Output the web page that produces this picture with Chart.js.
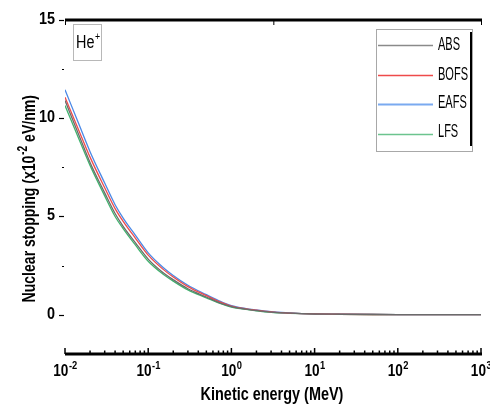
<!DOCTYPE html>
<html><head><meta charset="utf-8">
<script src="https://cdn.jsdelivr.net/npm/chart.js@4.4.1/dist/chart.umd.min.js"></script>
<style>html,body{margin:0;padding:0;background:#fff;}canvas{display:block;}</style>
</head><body>
<canvas id="c" width="490" height="405"></canvas>
<script>
const energy = [0.01, 0.015, 0.02, 0.03, 0.04, 0.05, 0.07, 0.1, 0.15, 0.2, 0.3, 0.5, 0.7, 1, 1.5, 2, 3, 5, 7, 10, 20, 50, 100, 200, 500, 1000];
const absVals  = [10.9, 9.05, 7.75, 6.2, 5.15, 4.5, 3.67, 2.83, 2.15, 1.78, 1.32, 0.9, 0.63, 0.41, 0.28, 0.21, 0.13, 0.08, 0.054, 0.036, 0.023, 0.011, 0.006, 0.004, 0.002, 0.001];
const bofsVals = [11.07, 9.28, 8.02, 6.46, 5.4, 4.75, 3.9, 3.03, 2.32, 1.92, 1.43, 0.97, 0.68, 0.44, 0.3, 0.23, 0.14, 0.085, 0.057, 0.038, 0.024, 0.011, 0.007, 0.004, 0.002, 0.001];
const eafsVals = [11.45, 9.6, 8.3, 6.7, 5.6, 4.92, 4.05, 3.15, 2.42, 2.0, 1.5, 1.02, 0.72, 0.46, 0.31, 0.24, 0.15, 0.09, 0.06, 0.04, 0.025, 0.012, 0.007, 0.004, 0.002, 0.001];
const lfsVals  = [10.65, 8.85, 7.6, 6.05, 5.0, 4.38, 3.55, 2.72, 2.07, 1.71, 1.26, 0.86, 0.6, 0.39, 0.27, 0.2, 0.125, 0.075, 0.05, 0.034, 0.022, 0.01, 0.006, 0.003, 0.002, 0.001];
const seriesNames = ['ABS', 'BOFS', 'EAFS', 'LFS'];
const xTickValues = [0.01, 0.1, 1, 10, 100, 1000];
const xTickExps = ['-2', '-1', '0', '1', '2', '3'];
const yTickValues = [0, 5, 10, 15];
const yMinorValues = [2.5, 7.5, 12.5];

const colors = ['#6b6b6b', '#ee4a4a', '#4a88e6', '#3fb36e'];
const legendColors = ['#8a8a8a', '#ee4a4a', '#7aaaf0', '#6cc48e'];
const FONT = '"Liberation Sans Narrow", "Arial Narrow", "Liberation Sans", Arial, sans-serif';

function pts(vals){ return energy.map((e,i)=>({x:e, y:vals[i]})); }
const allVals = [absVals, bofsVals, eafsVals, lfsVals];

function sq(ctx, text, x, y, font, sx, align) {
  ctx.save();
  ctx.font = font;
  const w = ctx.measureText(text).width * sx;
  let left = x;
  if (align === 'center') left = x - w / 2;
  else if (align === 'right') left = x - w;
  ctx.translate(left, y);
  ctx.scale(sx, 1);
  ctx.textAlign = 'left';
  ctx.fillText(text, 0, 0);
  ctx.restore();
  return w;
}
function tw(ctx, text, font, sx) { ctx.save(); ctx.font = font; const w = ctx.measureText(text).width * sx; ctx.restore(); return w; }

const drawPlugin = {
  id: 'custom',
  afterDraw(chart){
    const ctx = chart.ctx;
    const xs = chart.scales.x, ys = chart.scales.y;
    const a = chart.chartArea;
    ctx.save();
    ctx.fillStyle = '#000'; ctx.strokeStyle = '#000';
    ctx.lineWidth = 3;
    ctx.beginPath(); ctx.moveTo(a.left, a.top); ctx.lineTo(a.right + 1, a.top); ctx.stroke();
    ctx.lineWidth = 1;
    [a.left + 0.5, a.left + (a.right - a.left) * 0.502, a.right + 0.5].forEach(px => {
      ctx.beginPath(); ctx.moveTo(px, a.top); ctx.lineTo(px, a.top + 5); ctx.stroke();
    });
    ctx.lineWidth = 3;
    ctx.beginPath(); ctx.moveTo(a.left, a.bottom); ctx.lineTo(a.right + 1, a.bottom); ctx.stroke();
    ctx.lineWidth = 1.5;
    for (let d = -2; d <= 3; d++) {
      const base = Math.pow(10, d);
      const px = xs.getPixelForValue(base);
      ctx.beginPath(); ctx.moveTo(px, a.bottom); ctx.lineTo(px, a.bottom - 6); ctx.stroke();
      if (d < 3) {
        for (let m = 2; m <= 9; m++) {
          const mp = xs.getPixelForValue(base * m);
          ctx.beginPath(); ctx.moveTo(mp, a.bottom); ctx.lineTo(mp, a.bottom - 3.5); ctx.stroke();
        }
      }
    }
    ctx.textBaseline = 'alphabetic';
    const fT = 'bold 16px ' + FONT, fE = 'bold 11px ' + FONT;
    xTickValues.forEach((v, i) => {
      const px = xs.getPixelForValue(v);
      const w1 = tw(ctx, '10', fT, 0.85);
      const w2 = tw(ctx, xTickExps[i], fE, 0.85);
      const start = px - (w1 + w2) / 2;
      sq(ctx, '10', start, 376, fT, 0.85, 'left');
      sq(ctx, xTickExps[i], start + w1 + 0.5, 369, fE, 0.85, 'left');
    });
    sq(ctx, 'Kinetic energy (MeV)', 272, 400, 'bold 19px ' + FONT, 0.76, 'center');
    ctx.lineWidth = 1.2;
    yTickValues.forEach(v => {
      const py = Math.round(ys.getPixelForValue(v)) + 0.5;
      ctx.beginPath(); ctx.moveTo(a.left - 6, py); ctx.lineTo(a.left - 1, py); ctx.stroke();
      ctx.textBaseline = 'middle';
      sq(ctx, String(v), a.left - 10, py - 1, 'bold 16px ' + FONT, 0.9, 'right');
    });
    yMinorValues.forEach(v => {
      const py = Math.round(ys.getPixelForValue(v)) + 0.5;
      ctx.beginPath(); ctx.moveTo(a.left - 3, py); ctx.lineTo(a.left - 1, py); ctx.stroke();
    });
    ctx.save();
    ctx.translate(35, 199);
    ctx.rotate(-Math.PI / 2);
    ctx.textBaseline = 'alphabetic';
    const p1 = 'Nuclear stopping (x10', p2 = '-2', p3 = ' eV/nm)';
    const fY = 'bold 19px ' + FONT, fY2 = 'bold 14px ' + FONT, syx = 0.74;
    const w1 = tw(ctx, p1, fY, syx), w2 = tw(ctx, p2, fY2, syx), w3 = tw(ctx, p3, fY, syx);
    let sx = -(w1 + w2 + w3) / 2;
    sq(ctx, p1, sx, 0, fY, syx, 'left');
    sq(ctx, p2, sx + w1 + 0.5, -8, fY2, syx, 'left');
    sq(ctx, p3, sx + w1 + w2 + 0.5, 0, fY, syx, 'left');
    ctx.restore();
    ctx.lineWidth = 1; ctx.strokeStyle = '#b8b8b8';
    ctx.strokeRect(73.5, 24.5, 28, 36);
    ctx.fillStyle = '#000';
    ctx.textBaseline = 'alphabetic';
    const hw = sq(ctx, 'He', 76, 48, '18px ' + FONT, 0.8, 'left');
    sq(ctx, '+', 76 + hw + 0.5, 40, '11px ' + FONT, 0.8, 'left');
    ctx.strokeStyle = '#a8a8a8'; ctx.lineWidth = 1;
    ctx.strokeRect(376.5, 29.5, 96, 122);
    ctx.strokeStyle = '#000'; ctx.lineWidth = 2;
    ctx.beginPath(); ctx.moveTo(471, 32); ctx.lineTo(471, 146); ctx.stroke();
    const ly = [45.5, 75.5, 104.5, 134.5];
    const ty = [50, 80, 108, 137];
    const fL = '19px ' + FONT;
    const lsx = 30 / tw(ctx, 'BOFS', fL, 1);
    seriesNames.forEach((n, i) => {
      ctx.strokeStyle = legendColors[i]; ctx.lineWidth = i === 2 ? 2 : 1.3;
      ctx.beginPath(); ctx.moveTo(378, ly[i]); ctx.lineTo(433, ly[i]); ctx.stroke();
      ctx.fillStyle = '#000';
      ctx.textBaseline = 'alphabetic';
      sq(ctx, n, 438, ty[i], fL, lsx, 'left');
    });
    ctx.restore();
  }
};

new Chart(document.getElementById('c'), {
  type: 'line',
  data: {
    datasets: seriesNames.map((n, i) => ({
      label: n,
      data: pts(allVals[i]),
      borderColor: colors[i],
      borderWidth: 1.3,
      pointRadius: 0,
      fill: false,
      cubicInterpolationMode: 'monotone'
    }))
  },
  options: {
    responsive: false,
    animation: false,
    devicePixelRatio: 1,
    layout: { padding: { top: 20, right: 9, left: 0, bottom: 0 } },
    plugins: { legend: { display: false }, tooltip: { enabled: false } },
    scales: {
      x: {
        type: 'logarithmic', min: 0.01, max: 1000,
        ticks: { display: false }, grid: { display: false }, border: { display: false },
        afterFit(s) { s.height = 51; }
      },
      y: {
        type: 'linear', min: -2, max: 15,
        ticks: { display: false }, grid: { display: false }, border: { display: false },
        afterFit(s) { s.width = 65; }
      }
    }
  },
  plugins: [drawPlugin]
});
</script>
</body></html>
